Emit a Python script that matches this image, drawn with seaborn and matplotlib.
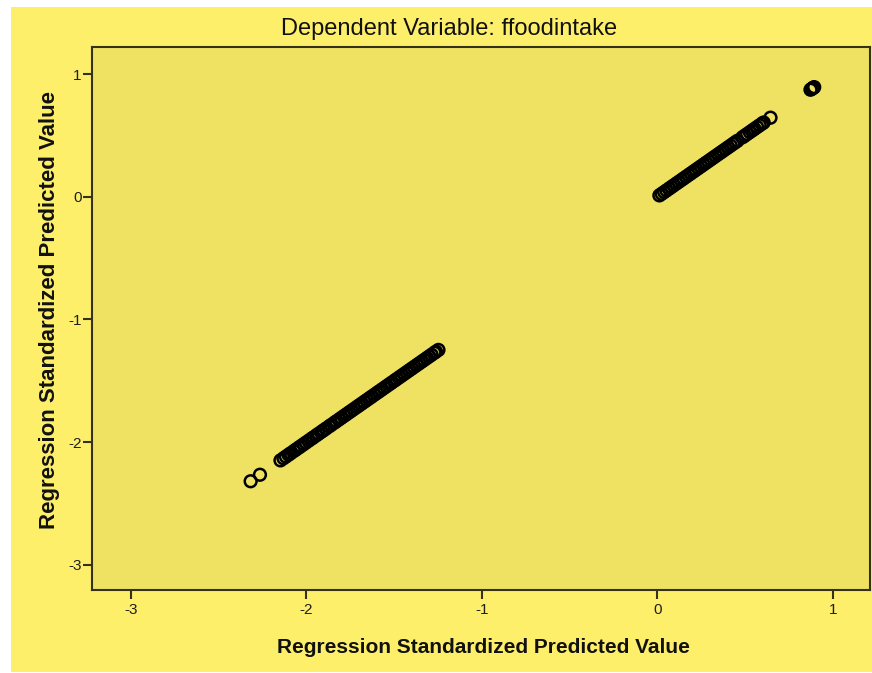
import matplotlib
matplotlib.use("Agg")
import matplotlib.pyplot as plt
from matplotlib.patches import Rectangle
import numpy as np
import pandas as pd
import seaborn as sns

# Standardized predicted values (plotted against themselves)
lower_values = [
    -2.318, -2.265,
    -2.148, -2.131, -2.117, -2.102, -2.089, -2.071, -2.058, -2.043, -2.031,
    -2.017, -2.003, -1.988, -1.972, -1.960, -1.944, -1.931, -1.915, -1.902,
    -1.888, -1.871, -1.859, -1.842, -1.830, -1.815, -1.801, -1.786, -1.772,
    -1.757, -1.744, -1.729, -1.713, -1.700, -1.686, -1.671, -1.657, -1.642,
    -1.629, -1.614, -1.599, -1.586, -1.572, -1.557, -1.543, -1.528, -1.515,
    -1.499, -1.486, -1.471, -1.457, -1.443, -1.428, -1.414, -1.400, -1.386,
    -1.371, -1.357, -1.343, -1.329, -1.314, -1.300, -1.287, -1.271, -1.262,
    -1.248,
]
upper_values = [
    0.011, 0.024, 0.038, 0.051, 0.066, 0.079, 0.093, 0.108, 0.121, 0.136,
    0.149, 0.163, 0.178, 0.191, 0.206, 0.219, 0.233, 0.248, 0.262, 0.276,
    0.290, 0.304, 0.318, 0.332, 0.347, 0.361, 0.374, 0.389, 0.403, 0.417,
    0.431, 0.444, 0.456,
    0.484, 0.497, 0.511, 0.526, 0.540, 0.553, 0.568, 0.582, 0.596, 0.605,
    0.644,
]
top_cluster = [0.872, 0.878, 0.884, 0.889, 0.893]

x_ticks = [-3, -2, -1, 0, 1]
y_ticks = [-3, -2, -1, 0, 1]

title_text = "Dependent Variable: ffoodintake"
x_label = "Regression Standardized Predicted Value"
y_label = "Regression Standardized Predicted Value"

values = lower_values + upper_values + top_cluster
df = pd.DataFrame({"pred_x": values, "pred_y": values})

sns.set_theme(style="white")
plt.rcParams["font.family"] = ["Liberation Sans", "DejaVu Sans"]

OUTER = "#FEEF6A"
INNER = "#EFE263"
EDGE = "#34321c"

fig = plt.figure(figsize=(8.72, 6.73), dpi=100, facecolor="white")
# yellow chart frame inside a thin white margin
fig.patches.append(Rectangle((11 / 872, 1 / 673), 1 - 11 / 872, 1 - 8 / 673,
                             transform=fig.transFigure, facecolor=OUTER,
                             edgecolor="none", zorder=-10))

ax = fig.add_axes([92 / 872, 83 / 673, 778 / 872, 543 / 673])
ax.set_facecolor(INNER)

sns.scatterplot(data=df, x="pred_x", y="pred_y", ax=ax, marker="o", s=72,
                facecolor="none", edgecolor="black", linewidth=1.8,
                legend=False)

ax.set_xlim(-3.222, 1.211)
ax.set_ylim(-3.204, 1.22)
ax.set_xticks(x_ticks)
ax.set_yticks(y_ticks)
ax.set_xticklabels([str(t) for t in x_ticks])
ax.set_yticklabels([str(t) for t in y_ticks])

for side in ["left", "bottom", "top", "right"]:
    ax.spines[side].set_visible(True)
    ax.spines[side].set_color(EDGE)
    ax.spines[side].set_linewidth(1.5)

ax.tick_params(axis="both", direction="out", length=6.5, width=1.5,
               color=EDGE, labelsize=11, labelcolor="#1e1e1e", pad=2)
ax.tick_params(axis="x", bottom=True, pad=3)
ax.tick_params(axis="y", left=True, pad=1)

ax.set_xlabel(x_label, fontsize=15, fontweight="bold", color="#111111")
ax.set_ylabel(y_label, fontsize=16, fontweight="bold", color="#111111")
ax.xaxis.set_label_coords(0.5026, -0.088)
ax.yaxis.set_label_coords(-0.041, 0.516)

fig.text(449 / 872, 1 - 29 / 673, title_text, fontsize=17,
         color="#111111", ha="center", va="center")

fig.savefig("out.png", dpi=100, facecolor=fig.get_facecolor())
